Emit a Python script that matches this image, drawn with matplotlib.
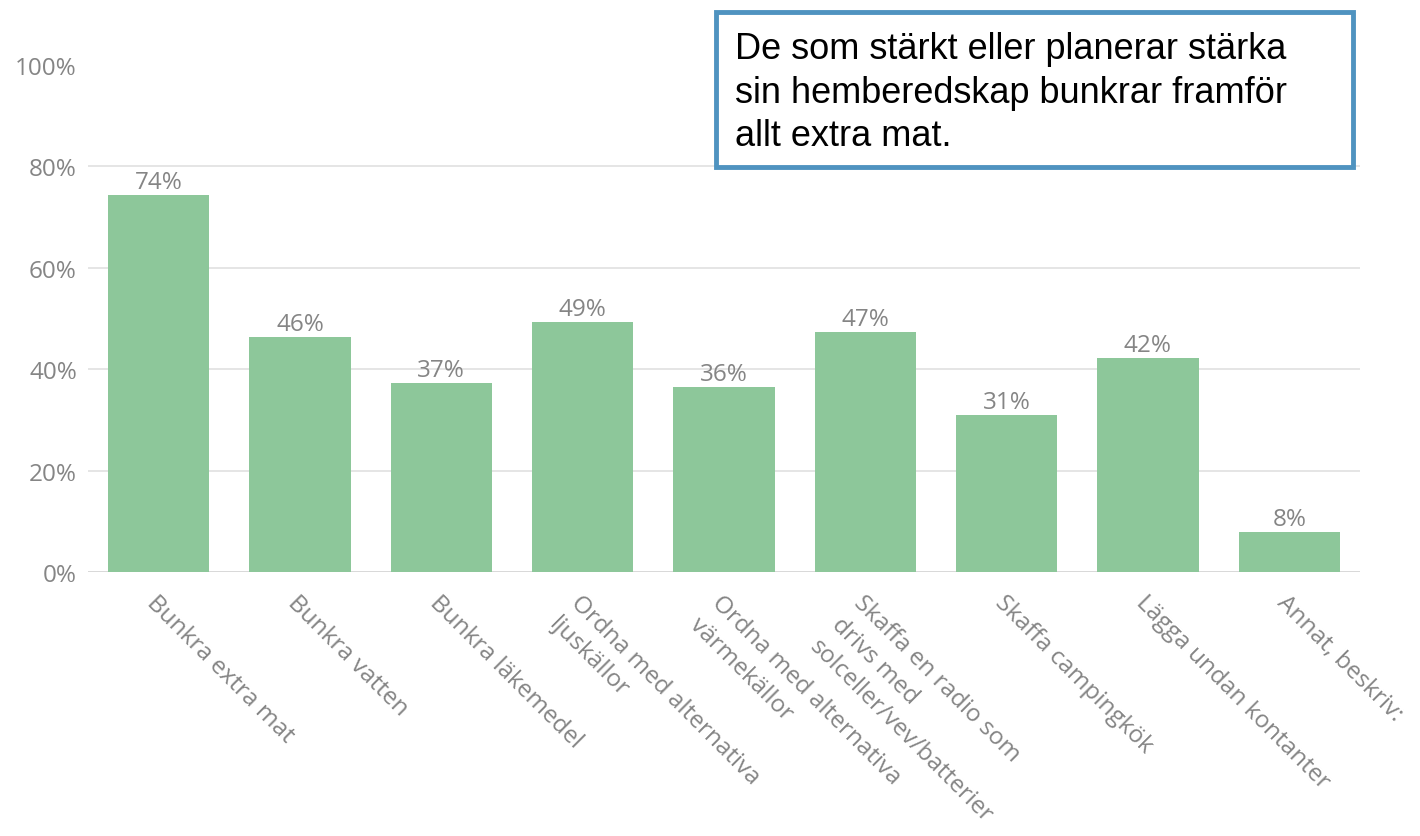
import matplotlib
matplotlib.use("Agg")
import matplotlib.pyplot as plt
from matplotlib.patches import Rectangle

categories = ["Bunkra extra mat", "Bunkra vatten", "Bunkra läkemedel",
              "Ordna med alternativa\nljuskällor", "Ordna med alternativa\nvärmekällor",
              "Skaffa en radio som\ndrivs med\nsolceller/vev/batterier",
              "Skaffa campingkök", "Lägga undan kontanter", "Annat, beskriv:"]
values = [74.4, 46.3, 37.2, 49.4, 36.4, 47.4, 31.0, 42.3, 7.9]
yticks = [0, 20, 40, 60, 80, 100]
note = "De som stärkt eller planerar stärka\nsin hemberedskap bunkrar framför\nallt extra mat."

plt.rcParams['font.family'] = ['Open Sans', 'DejaVu Sans']
gray = "#858585"

fig = plt.figure(figsize=(14.2, 8.37), dpi=100)
ax = fig.add_axes([88/1420, 1-573/837, (1360-88)/1420, (573-66)/837])
x = list(range(len(categories)))
ax.bar(x, values, width=0.715, color="#8DC79A", zorder=3)
ax.set_xlim(-0.5, len(categories)-0.5)
ax.set_ylim(0, 100)
for xi, v in zip(x, values):
    ax.text(xi, v + 0.2, f"{round(v)}%", ha="center", va="bottom",
            fontsize=17.5, color=gray, zorder=4)
for t in yticks[:-1]:
    ax.axhline(t, color="#e3e3e3" if t else "#d5d5d5", lw=1.3, zorder=1)
ax.set_yticks(yticks)
ax.set_yticklabels([f"{t}%" for t in yticks], fontsize=17.5, color=gray)
ax.set_xticks(x)
ax.set_xticklabels(categories, rotation=-45, rotation_mode="anchor",
                   ha="left", va="top", fontsize=17.5, color=gray, linespacing=1.4)
ax.tick_params(axis="both", length=0)
ax.tick_params(axis="y", pad=8)
ax.tick_params(axis="x", pad=13)
for s in ax.spines.values():
    s.set_visible(False)

fig.patches.append(Rectangle((716/1420, 1-168/837), (1353-716)/1420, (168-13)/837,
                             transform=fig.transFigure, facecolor="white",
                             edgecolor="#4F93C0", lw=3.5, zorder=10))
fig.text(735/1420, 1-32/837, note, ha="left", va="top", fontsize=26,
         family=["Liberation Sans Narrow", "Liberation Sans", "DejaVu Sans"],
         color="black", linespacing=1.32, zorder=11)

fig.savefig("out.png", dpi=100)
